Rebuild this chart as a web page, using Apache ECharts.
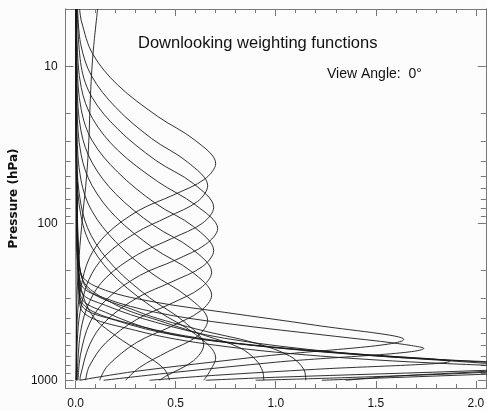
<!DOCTYPE html>
<html>
<head>
<meta charset="utf-8">
<script src="https://cdn.jsdelivr.net/npm/echarts@6/dist/echarts.min.js"></script>
<style>
html,body{margin:0;padding:0;background:#fbfcfb;}
#chart{width:487px;height:411px;}
</style>
</head>
<body>
<div id="chart"></div>
<script>
// ---- tick values ----
const xMajorTicks = [0, 0.5, 1.0, 1.5, 2.0];
const xMinorTicks = [0.1,0.2,0.3,0.4,0.6,0.7,0.8,0.9,1.1,1.2,1.3,1.4,1.6,1.7,1.8,1.9];
const yMajorTicks = [10, 100, 1000];
const yMinorTicks = [20,30,40,50,60,70,80,90,200,300,400,500,600,700,800,900];

// ---- weighting function curves: [value, pressure(hPa)] ----
const t1 = [[0.11,4.3],[0.09,7.5],[0.08,11],[0.072,18],[0.066,30],[0.055,50],[0.035,90],[0.018,160],[0.006,320],[0.002,1000]];
const u1 = [[0.02,4.3],[0.03,5.2],[0.085,8.3],[0.21,13.1],[0.41,20.8],[0.595,29.4],[0.70,41.5],[0.645,52.2],[0.49,65.8],[0.315,82.8],[0.155,117],[0.07,165],[0.025,262],[0.008,415],[0.003,1000]];
const u2 = [[0.01,4.3],[0.026,7.25],[0.08,11.5],[0.2,18.2],[0.38,28.8],[0.56,40.7],[0.66,57.5],[0.61,72.4],[0.46,91.1],[0.30,115],[0.145,162],[0.066,229],[0.023,363],[0.008,575],[0.004,1000]];
const u3 = [[0.008,4.3],[0.028,10],[0.083,15.8],[0.21,25],[0.40,39.6],[0.59,55.9],[0.69,79],[0.635,99.5],[0.48,125],[0.31,158],[0.15,223],[0.07,315],[0.024,498],[0.008,1000]];
const u4 = [[0.005,4.3],[0.007,6.8],[0.028,13.6],[0.085,21.5],[0.21,34.1],[0.41,54.1],[0.60,76.5],[0.71,108],[0.65,136],[0.50,171],[0.32,215],[0.156,304],[0.071,430],[0.025,681],[0.012,1000]];
const u5 = [[0.004,4.3],[0.007,9.4],[0.028,18.8],[0.083,29.7],[0.21,47.1],[0.40,74.7],[0.59,105],[0.69,149],[0.635,188],[0.48,236],[0.31,297],[0.15,420],[0.07,593],[0.024,940],[0.022,1000]];
const u6 = [[0.003,4.3],[0.007,12.9],[0.027,25.8],[0.082,40.9],[0.20,64.8],[0.39,103],[0.58,145],[0.68,205],[0.625,258],[0.476,325],[0.306,409],[0.15,578],[0.068,816],[0.05,1000]];
const u7 = [[0.002,4.3],[0.007,18.1],[0.027,36.2],[0.082,57.3],[0.20,90.8],[0.39,144],[0.58,203],[0.68,287],[0.625,361],[0.476,455],[0.306,573],[0.16,809],[0.12,1000]];
const u8 = [[0.002,4.3],[0.007,26.2],[0.026,52.3],[0.08,82.8],[0.2,131],[0.38,208],[0.56,294],[0.66,415],[0.61,522],[0.46,658],[0.32,828],[0.25,1000]];
const u9 = [[0.002,4.3],[0.006,37.5],[0.026,75],[0.077,119],[0.19,188],[0.37,298],[0.54,421],[0.64,595],[0.59,749],[0.45,943],[0.42,1000]];
const u10 = [[0.002,4.3],[0.006,45],[0.028,91],[0.084,144],[0.21,228],[0.41,361],[0.6,510],[0.70,720],[0.67,880],[0.64,1000]];
const s1 = [[0.002,4.3],[0.005,100],[0.02,230],[0.08,380],[0.2,520],[0.34,680],[0.44,840],[0.47,1000]];
const s3 = [[0.002,4.3],[0.008,100],[0.03,220],[0.2,330],[0.45,430],[0.65,520],[0.82,620],[0.9,740],[0.935,880],[0.94,1000]];
const s4 = [[0.002,4.3],[0.01,100],[0.04,240],[0.3,360],[0.6,470],[0.9,580],[1.07,700],[1.14,850],[1.15,1000]];
const z1 = [[0.001,4.3],[0.002,200],[0.004,500],[0.005,800],[0.002,1000]];
const w1 = [[0.002,4.3],[0.006,60],[0.015,150],[0.03,214],[0.15,267],[0.4,318],[0.745,369],[1.2,446],[1.64,548],[0.9,711],[0.3,877],[0.02,1000]];
const w2 = [[0.002,4.3],[0.006,70],[0.015,170],[0.03,248],[0.15,301],[0.4,369],[0.745,433],[1.3,525],[1.6,581],[1.74,625],[1.0,767],[0.5,889],[0.14,1000]];
const w3 = [[0.002,4.3],[0.006,80],[0.015,190],[0.03,275],[0.15,333],[0.4,427],[0.745,540],[1.3,663],[1.87,757],[1.2,851],[0.7,929],[0.37,1000]];
const w4 = [[0.002,4.3],[0.006,90],[0.015,210],[0.03,301],[0.15,369],[0.4,481],[0.745,573],[1.4,683],[2.05,780],[2.3,826],[2.05,877],[1.6,940],[1.35,1000]];
const w5 = [[0.002,4.3],[0.006,100],[0.015,230],[0.03,333],[0.2,415],[0.5,517],[0.9,598],[1.5,693],[2.05,767],[2.5,810],[2.05,864],[1.0,957],[0.65,1000]];
const w6 = [[0.002,4.3],[0.006,110],[0.015,250],[0.03,358],[0.3,481],[0.7,598],[1.3,713],[2.05,802],[2.8,850],[2.05,915],[1.6,960],[1.23,1000]];
const w7 = [[0.002,4.3],[0.006,95],[0.015,220],[0.03,318],[0.3,445],[0.8,580],[1.5,700],[2.05,760],[2.6,800],[2.05,889],[1.4,957],[0.9,1000]];

const curves = [t1,u1,u2,u3,u4,u5,u6,u7,u8,u9,u10,s1,s3,s4,z1,w1,w2,w3,w4,w5,w6,w7];

const chart = echarts.init(document.getElementById('chart'), null, {renderer:'canvas'});
const axisColor = '#777';
const labelFont = {fontFamily:'Liberation Sans, Arial, sans-serif', fontSize:12, color:'#111'};

function xAx(pos, ticks, len, labels){
  return {
    type:'value', position:pos, min:-0.05, max:2.05, gridIndex:0,
    axisLine:{show:true, onZero:false, lineStyle:{color:axisColor, width:1}},
    axisTick:{show:true, inside:true, length:len, customValues:ticks, lineStyle:{color:axisColor}},
    axisLabel:labels ? Object.assign({show:true, customValues:ticks, margin:10, formatter:v=>Number(v).toFixed(1)}, labelFont) : {show:false},
    splitLine:{show:false}
  };
}
function yAx(pos, ticks, len, labels){
  const a = {
    type:'log', logBase:10, position:pos, min:4.3, max:1120, inverse:true, gridIndex:0,
    axisLine:{show:true, onZero:false, lineStyle:{color:axisColor, width:1}},
    axisTick:{show:true, inside:true, length:len, customValues:ticks, lineStyle:{color:axisColor}},
    axisLabel:labels ? Object.assign({show:true, customValues:ticks, margin:8, formatter:v=>String(Math.round(v))}, labelFont) : {show:false},
    splitLine:{show:false}
  };
  if (labels) {
    a.name = 'Pressure (hPa)';
    a.nameLocation = 'middle';
    a.nameRotate = 90;
    a.nameGap = 44;
    a.nameTextStyle = {fontFamily:'DejaVu Sans', fontWeight:'bold', fontSize:12, color:'#111'};
  }
  return a;
}

const option = {
  animation:false,
  backgroundColor:'#fbfcfb',
  title:[
    {text:'Downlooking weighting functions', left:133, top:30,
     textStyle:{fontFamily:'Liberation Sans, Arial, sans-serif', fontSize:16.5, fontWeight:'normal', color:'#111'}},
    {text:'View Angle:  0\u00B0', left:322, top:62,
     textStyle:{fontFamily:'Liberation Sans, Arial, sans-serif', fontSize:14, fontWeight:'normal', color:'#111'}}
  ],
  grid:{left:58, right:1, top:9, bottom:23, containLabel:false},
  xAxis:[
    xAx('bottom', xMajorTicks, 7, true),
    xAx('bottom', xMinorTicks, 4, false),
    xAx('top', xMajorTicks, 7, false),
    xAx('top', xMinorTicks, 4, false)
  ],
  yAxis:[
    yAx('left', yMajorTicks, 8, true),
    yAx('left', yMinorTicks, 5, false),
    yAx('right', yMajorTicks, 8, false),
    yAx('right', yMinorTicks, 5, false)
  ],
  series: curves.map(d => ({
    type:'line', data:d, xAxisIndex:0, yAxisIndex:0,
    showSymbol:false, symbol:'none', smooth:0.35, clip:true, silent:true,
    lineStyle:{color:'#1a1a1a', width:0.9}
  }))
};
chart.setOption(option);
</script>
</body>
</html>
